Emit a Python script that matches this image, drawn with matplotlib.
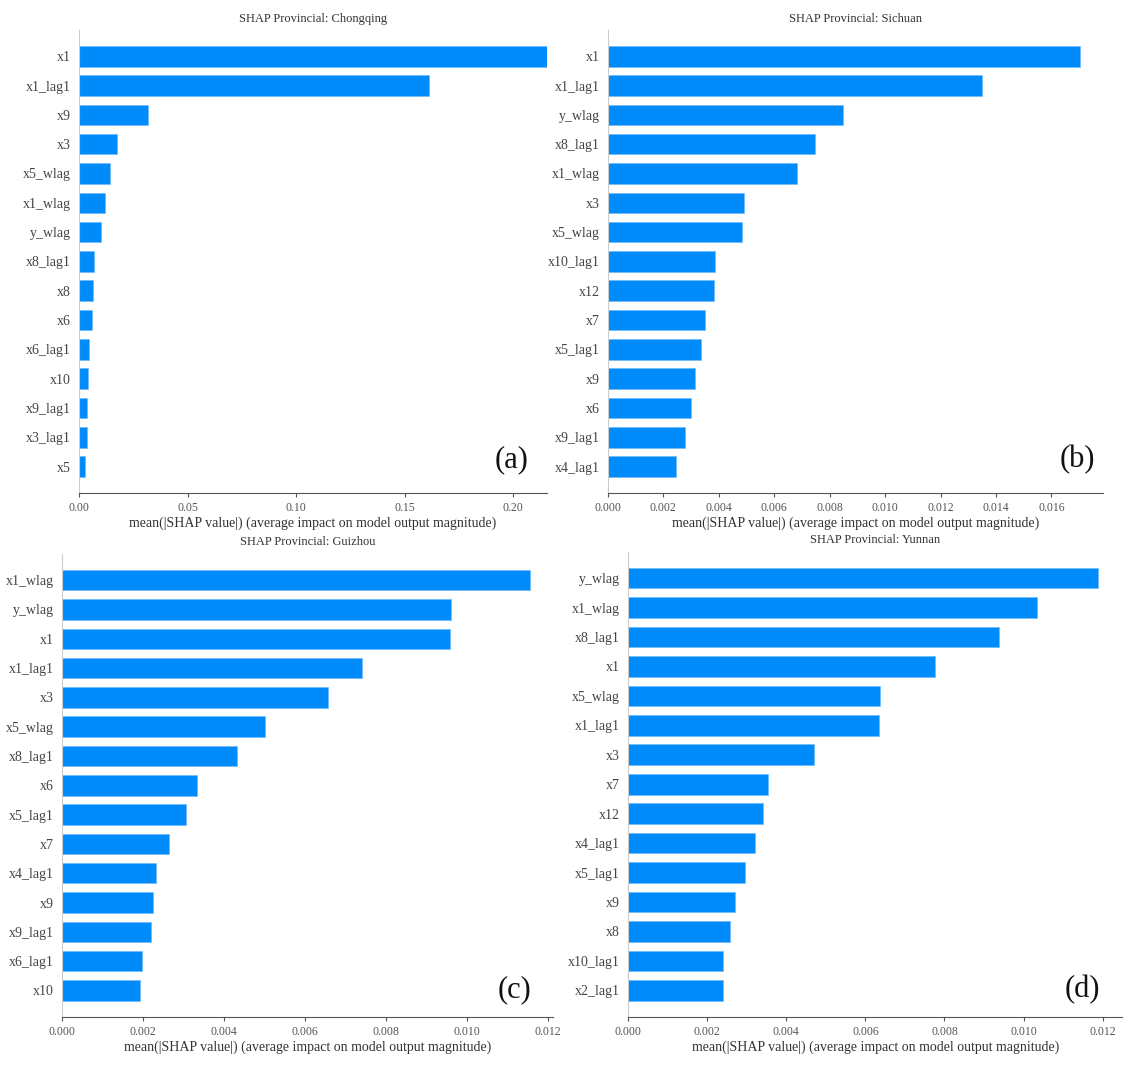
import numpy as np
import matplotlib
matplotlib.use('Agg')
import matplotlib.pyplot as plt

plt.rcParams['font.family'] = ['Liberation Serif', 'DejaVu Serif']

# features ordered from most to least important, as in the reference
cq_feat = ['x1', 'x1_lag1', 'x9', 'x3', 'x5_wlag', 'x1_wlag', 'y_wlag', 'x8_lag1',
           'x8', 'x6', 'x6_lag1', 'x10', 'x9_lag1', 'x3_lag1', 'x5']
cq_vals = [0.2153, 0.161, 0.0317, 0.0174, 0.0141, 0.0118, 0.0100, 0.0071,
           0.0064, 0.0059, 0.0044, 0.0041, 0.0038, 0.0035, 0.0030]

sc_feat = ['x1', 'x1_lag1', 'y_wlag', 'x8_lag1', 'x1_wlag', 'x3', 'x5_wlag', 'x10_lag1',
           'x12', 'x7', 'x5_lag1', 'x9', 'x6', 'x9_lag1', 'x4_lag1']
sc_vals = [0.01702, 0.01348, 0.00848, 0.00746, 0.00681, 0.00493, 0.00483, 0.00388,
           0.00382, 0.00349, 0.00335, 0.00313, 0.00300, 0.00279, 0.00247]

gz_feat = ['x1_wlag', 'y_wlag', 'x1', 'x1_lag1', 'x3', 'x5_wlag', 'x8_lag1', 'x6',
           'x5_lag1', 'x7', 'x4_lag1', 'x9', 'x9_lag1', 'x6_lag1', 'x10']
gz_vals = [0.01157, 0.00962, 0.00960, 0.00742, 0.00657, 0.00502, 0.00433, 0.00333,
           0.00306, 0.00264, 0.00232, 0.00225, 0.00219, 0.00198, 0.00193]

yn_feat = ['y_wlag', 'x1_wlag', 'x8_lag1', 'x1', 'x5_wlag', 'x1_lag1', 'x3', 'x7',
           'x12', 'x4_lag1', 'x5_lag1', 'x9', 'x8', 'x10_lag1', 'x2_lag1']
yn_vals = [0.01189, 0.01033, 0.00937, 0.00777, 0.00636, 0.00634, 0.00469, 0.00353,
           0.00342, 0.00321, 0.00295, 0.00271, 0.00257, 0.00241, 0.00241]

panels = [
    ('Chongqing', cq_feat, cq_vals, '(a)', (0.925, 0.071), [0.0695, 0.538, 0.412, 0.434], 0.2155, [0, 0.05, 0.10, 0.15, 0.20], '%.2f'),
    ('Sichuan', sc_feat, sc_vals, '(b)', (0.949, 0.071), [0.535, 0.538, 0.436, 0.434], 0.01786, np.arange(0, 0.0161, 0.002), '%.3f'),
    ('Guizhou', gz_feat, gz_vals, '(c)', (0.923, 0.058), [0.0546, 0.047, 0.432, 0.434], 0.01213, np.arange(0, 0.0121, 0.002), '%.3f'),
    ('Yunnan', yn_feat, yn_vals, '(d)', (0.919, 0.058), [0.553, 0.047, 0.435, 0.436], 0.0125, np.arange(0, 0.0121, 0.002), '%.3f'),
]

fig = plt.figure(figsize=(11.36, 10.67), dpi=100)

for name, feat, vals, tag, tagpos, pos, xmax, ticks, fmt in panels:
    ax = fig.add_axes(pos)
    n = len(feat)
    ypos = np.arange(n)[::-1]
    ax.barh(ypos, vals, 0.7, color='#008bfb', edgecolor='#6fbcff', linewidth=0.5)
    ax.set_yticks(ypos)
    ax.set_yticklabels(feat, fontsize=10, color='#444444')
    ax.set_ylim(-0.9, n - 1 + 0.9)
    ax.set_xlim(0, xmax)
    ax.set_xticks(ticks)
    ax.set_xticklabels([fmt % t for t in ticks], fontsize=8.5, color='#555555')
    ax.tick_params('y', length=0, pad=6)
    ax.tick_params('x', length=3, color='#555555', width=0.8)
    for s in ['top', 'right']:
        ax.spines[s].set_visible(False)
    ax.spines['left'].set_color('#cccccc')
    ax.spines['bottom'].set_color('#555555')
    ax.set_xlabel('mean(|SHAP value|) (average impact on model output magnitude)',
                  fontsize=10, color='#333333', labelpad=2)
    ax.set_title('SHAP Provincial: ' + name, fontsize=9, color='#333333', pad=6)
    ax.text(tagpos[0], tagpos[1], tag, transform=ax.transAxes, fontsize=22,
            ha='center', va='center', color='#111111')

fig.savefig('out.png', dpi=100)
